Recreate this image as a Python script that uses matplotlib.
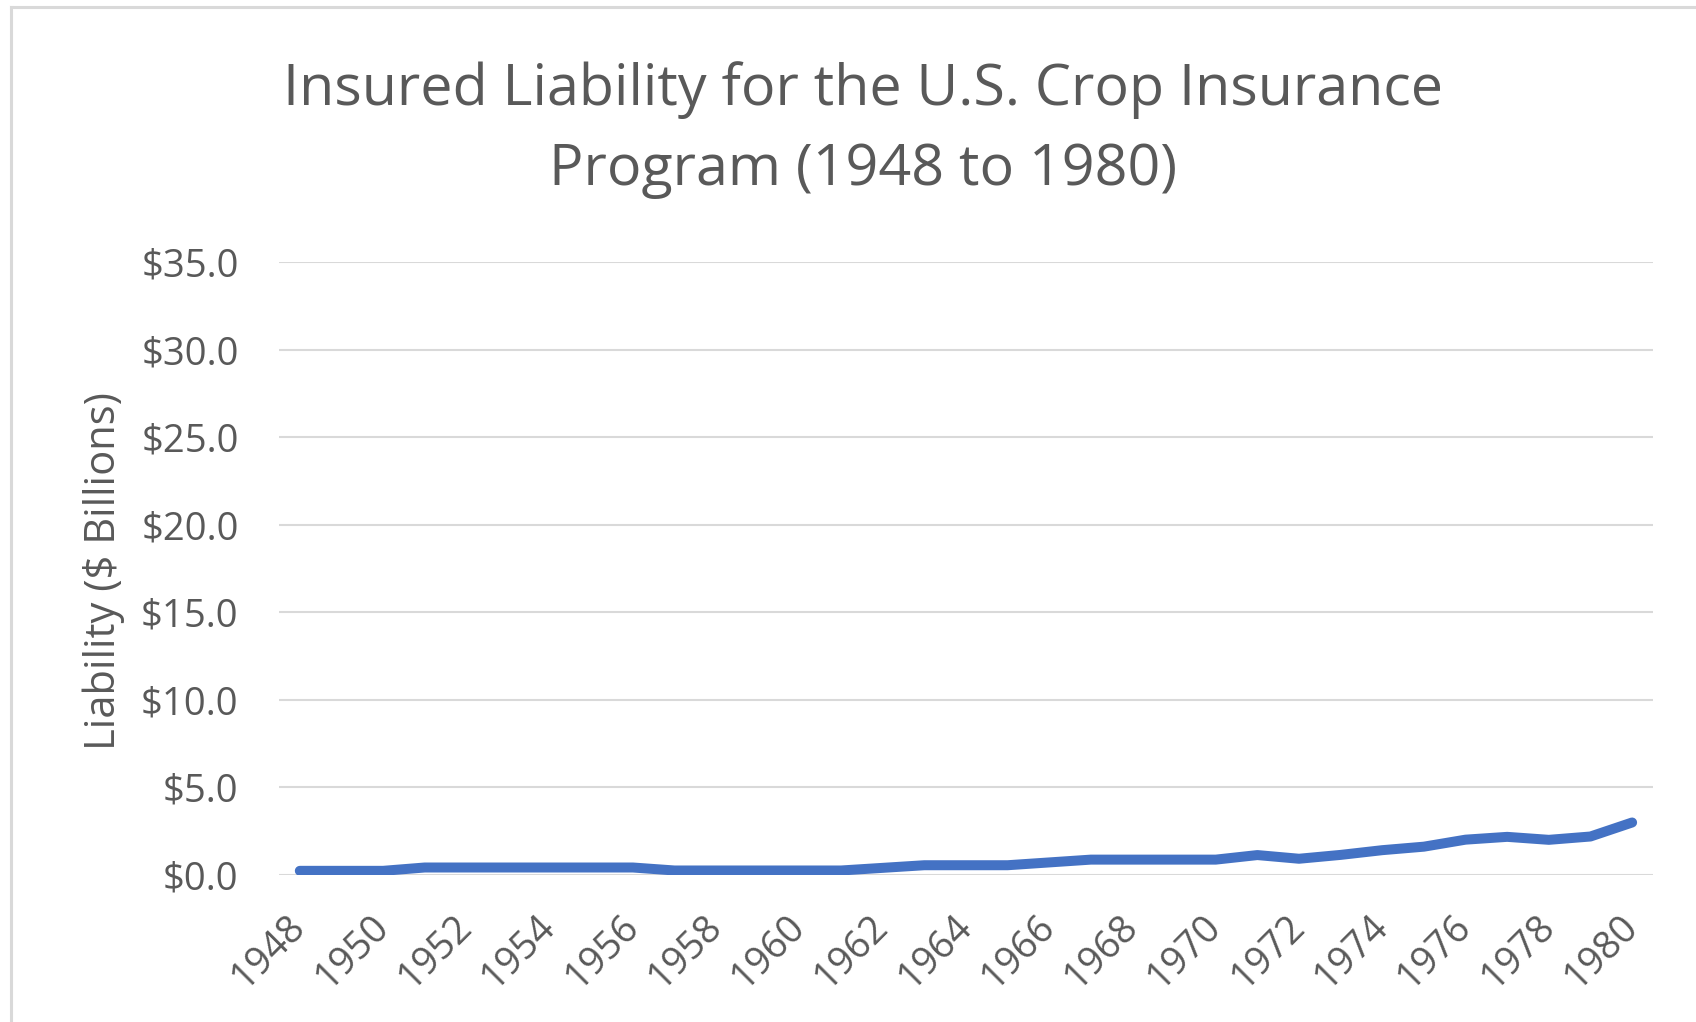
import matplotlib
matplotlib.use("Agg")
import matplotlib.pyplot as plt
from matplotlib.lines import Line2D

# data ($ billions)
years = list(range(1948, 1981))
liability = [0.24, 0.24, 0.24, 0.43, 0.43, 0.43, 0.43, 0.43, 0.43,
             0.26, 0.26, 0.26, 0.26, 0.26, 0.41, 0.56, 0.56, 0.56,
             0.72, 0.88, 0.88, 0.88, 0.88, 1.14, 0.93, 1.15, 1.42,
             1.62, 2.02, 2.18, 2.01, 2.20, 3.00]
tick_years = years[::2]
y_ticks = [0, 5, 10, 15, 20, 25, 30, 35]

title = "Insured Liability for the U.S. Crop Insurance\nProgram (1948 to 1980)"
ylabel = "Liability ($ Billions)"

txt = "#595959"
grid = "#d9d9d9"
blue = "#4472C4"

plt.rcParams['font.family'] = ['Open Sans', 'DejaVu Sans']

fig = plt.figure(figsize=(16.96, 10.22), dpi=100)
ax = fig.add_axes([0.1645, 0.1438, 0.8101, 0.5998])

ax.plot(years, liability, color=blue, lw=7.2, solid_capstyle='round',
        solid_joinstyle='round')

ax.set_xlim(1947.5, 1980.5)
ax.set_ylim(0, 35)
ax.set_yticks(y_ticks)
ax.set_yticklabels(["${:.1f}".format(v) for v in y_ticks])
ax.set_xticks(tick_years)
ax.set_xticklabels([str(y) for y in tick_years], rotation=45, ha='right',
                   va='center', rotation_mode='anchor')

ax.grid(axis='y', color=grid, lw=1.5)
ax.set_axisbelow(True)
for s in ax.spines.values():
    s.set_visible(False)
ax.tick_params(axis='y', length=0, pad=29, labelsize=27.5, labelcolor=txt)
ax.tick_params(axis='x', length=0, pad=33, labelsize=27.5, labelcolor=txt)

fig.text(0.061, 0.441, ylabel, rotation=90, ha='center', va='center',
         fontsize=30, color=txt)
fig.text(0.509, 0.873, title, ha='center', va='center', fontsize=41.3,
         color=txt, linespacing=1.53, multialignment='center')

# chart area border (only top and left visible in the crop)
fig.add_artist(Line2D([11/1696, 1.0], [1 - 7/1022, 1 - 7/1022],
                      transform=fig.transFigure, color=grid, lw=2.2))
fig.add_artist(Line2D([11/1696, 11/1696], [0.0, 1 - 7/1022],
                      transform=fig.transFigure, color=grid, lw=2.2))

fig.savefig("out.png", dpi=100)
